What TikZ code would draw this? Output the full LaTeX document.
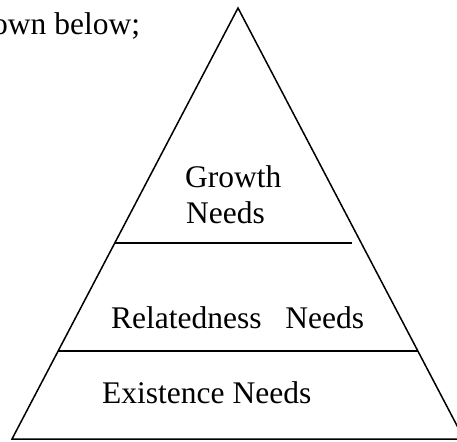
\documentclass[tikz,border=0pt]{standalone}
\usepackage{fontspec}
\setmainfont{Liberation Serif}
\usetikzlibrary{calc}
\begin{document}
\begin{tikzpicture}[x=1pt,y=-1pt,
  outline/.style={line width=1.5pt, line join=miter},
  tiertext/.style={anchor=base west, inner sep=0pt, font=\fontsize{31.5}{37}\selectfont}]
\useasboundingbox (0,0) rectangle (457,441);

% pyramid corners (right base corner runs past the page edge)
\coordinate (apex) at (238,8);
\coordinate (bl) at (12,439);
\coordinate (br) at (464,439);
\draw[outline] (bl) -- (apex) -- (br) -- cycle;

% tier dividers; the upper one stops short of the right side
\coordinate (d1l) at ($(apex)!0.545244!(bl)$);
\coordinate (d1r) at ($(d1l)+(237,0)$);
\coordinate (d2l) at ($(apex)!0.7958!(bl)$);
\coordinate (d2r) at ($(apex)!0.7958!(br)$);
\draw[outline] (d1l) -- (d1r);
\draw[outline] (d2l) -- (d2r);

% running text above the figure
\node[tiertext] (lead) at (-8,35) {own below;};

% tier labels
\node[tiertext] (growth) at (185,187) {Growth};
\node[tiertext] (growthneeds) at (186,223) {Needs};
\node[tiertext] (related) at (111,328) {Relatedness~~~Needs};
\node[tiertext] (exist) at (102,403) {Existence Needs};
\end{tikzpicture}
\end{document}
